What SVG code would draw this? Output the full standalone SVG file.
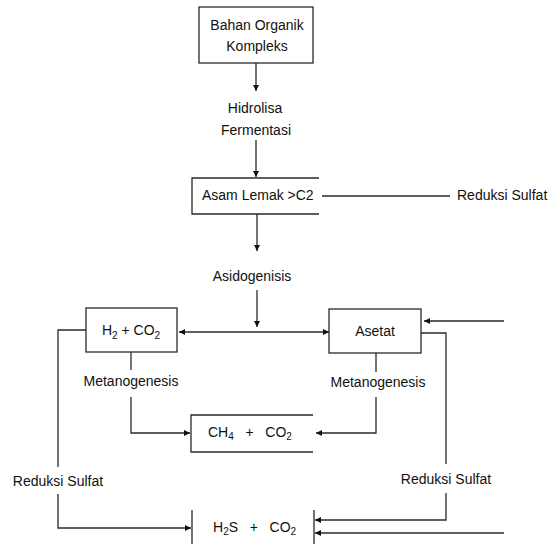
<svg xmlns="http://www.w3.org/2000/svg" width="555" height="544" viewBox="0 0 555 544">
<style>
  text { font-family: "Liberation Sans", Arial, sans-serif; font-size: 14px; fill: #111; }
  .c { text-anchor: middle; }
  .ln { fill: none; stroke: #2a2a2a; stroke-width: 1.3; }
  .box { fill: #fff; stroke: #2a2a2a; stroke-width: 1.3; }
  .sub { font-size: 10px; }
</style>
<defs>
  <marker id="ah" markerWidth="8" markerHeight="8" refX="6" refY="3" orient="auto" markerUnits="userSpaceOnUse">
    <path d="M0,0 L6,3 L0,6 Z" fill="#111"/>
  </marker>
</defs>
<rect width="555" height="544" fill="#fff"/>

<g id="connectors">
  <line class="ln" x1="256" y1="63" x2="256" y2="91" marker-end="url(#ah)"/>
  <line class="ln" x1="256" y1="140" x2="256" y2="177" marker-end="url(#ah)"/>
  <line class="ln" x1="322" y1="196" x2="450" y2="196"/>
  <line class="ln" x1="257" y1="214" x2="257" y2="251" marker-end="url(#ah)"/>
  <line class="ln" x1="257" y1="290" x2="257" y2="327" marker-end="url(#ah)"/>
  <line class="ln" x1="257" y1="332" x2="179" y2="332" marker-end="url(#ah)"/>
  <line class="ln" x1="257" y1="332" x2="329" y2="332" marker-end="url(#ah)"/>
  <line class="ln" x1="504" y1="321" x2="424" y2="321" marker-end="url(#ah)"/>
  <polyline class="ln" points="86,330 58,330 58,467"/>
  <polyline class="ln" points="58,494 58,528 191,528" marker-end="url(#ah)"/>
  <polyline class="ln" points="421,333 446,333 446,464"/>
  <polyline class="ln" points="446,493 446,520 315,520" marker-end="url(#ah)"/>
  <line class="ln" x1="504" y1="533" x2="315" y2="533" marker-end="url(#ah)"/>
  <line class="ln" x1="131" y1="352" x2="131" y2="370"/>
  <polyline class="ln" points="131,397 131,433 190,433" marker-end="url(#ah)"/>
  <line class="ln" x1="376" y1="353" x2="376" y2="372"/>
  <polyline class="ln" points="376,397 376,433 316,433" marker-end="url(#ah)"/>
</g>

<g id="bahan">
  <rect class="box" x="199" y="7" width="114" height="56"/>
  <text class="c" x="257" y="30">Bahan Organik</text>
  <text class="c" x="257" y="51">Kompleks</text>
</g>

<g id="hidrolisa">
  <text class="c" x="255" y="113">Hidrolisa</text>
  <text class="c" x="256" y="135">Fermentasi</text>
</g>

<g id="asam">
  <polyline class="box" points="319,178 192,178 192,214 319,214"/>
  <text x="202" y="200">Asam Lemak &gt;C2</text>
</g>

<g id="reduksi-top">
  <text x="457" y="200">Reduksi Sulfat</text>
</g>

<g id="asidogenisis">
  <text class="c" x="252" y="281">Asidogenisis</text>
</g>

<g id="h2co2">
  <rect class="box" x="86" y="308" width="91" height="44"/>
  <text class="c" x="131" y="335">H<tspan class="sub" dy="4">2</tspan><tspan dy="-4"> + CO</tspan><tspan class="sub" dy="4">2</tspan></text>
</g>

<g id="asetat">
  <rect class="box" x="329" y="309" width="92" height="44"/>
  <text class="c" x="375" y="336">Asetat</text>
</g>

<g id="metano-left">
  <text class="c" x="131" y="386">Metanogenesis</text>
</g>

<g id="metano-right">
  <text class="c" x="378" y="387">Metanogenesis</text>
</g>

<g id="ch4">
  <polyline class="box" points="313,415 191,415 191,452 313,452"/>
  <text x="208" y="437">CH<tspan class="sub" dy="3">4</tspan><tspan dy="-3" xml:space="preserve">   +   CO</tspan><tspan class="sub" dy="3">2</tspan></text>
</g>

<g id="reduksi-left">
  <text class="c" x="58" y="486">Reduksi Sulfat</text>
</g>

<g id="reduksi-right">
  <text class="c" x="446" y="484">Reduksi Sulfat</text>
</g>

<g id="h2s">
  <line class="ln" x1="192" y1="510" x2="192" y2="544"/>
  <line class="ln" x1="314" y1="510" x2="314" y2="544"/>
  <text x="213" y="532">H<tspan class="sub" dy="3">2</tspan><tspan dy="-3" xml:space="preserve">S   +   CO</tspan><tspan class="sub" dy="3">2</tspan></text>
</g>
</svg>
